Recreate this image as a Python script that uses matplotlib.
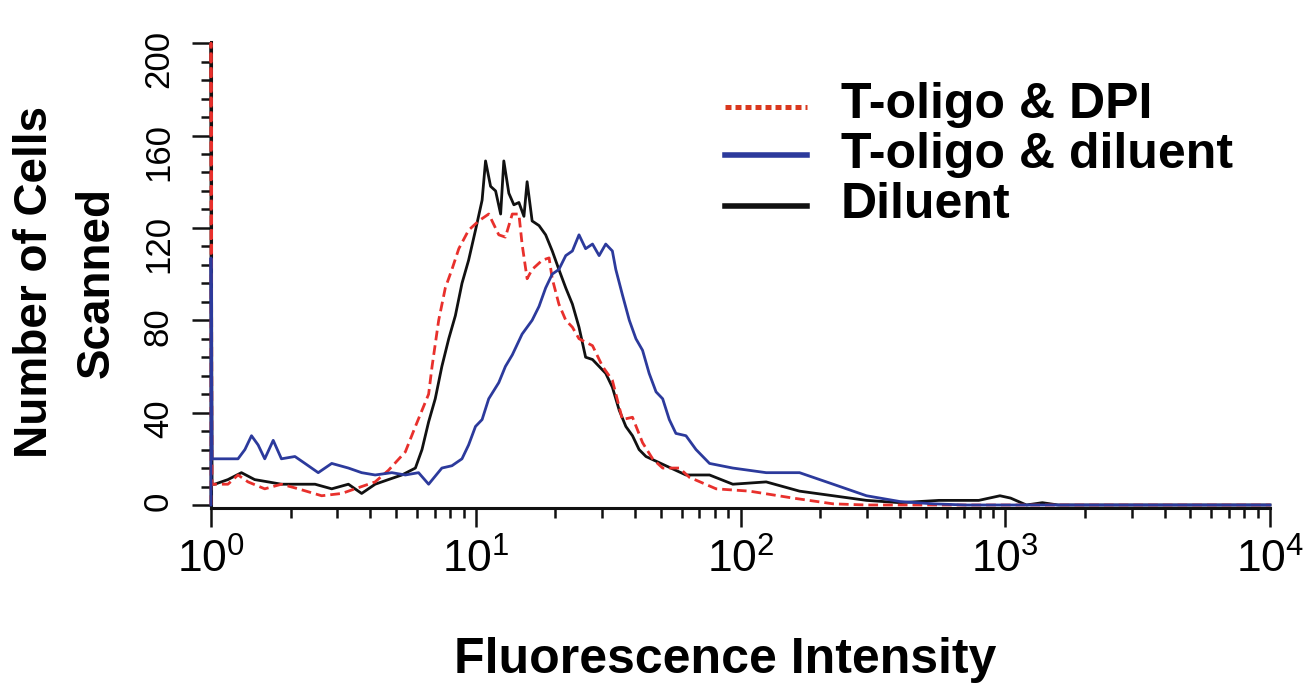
import numpy as np
import matplotlib
matplotlib.use("Agg")
import matplotlib.pyplot as plt
from matplotlib.lines import Line2D
from matplotlib.ticker import MultipleLocator, LogLocator, FuncFormatter, NullFormatter

plt.rcParams['font.family'] = ['Liberation Sans', 'DejaVu Sans']
plt.rcParams['mathtext.fontset'] = 'custom'
plt.rcParams['mathtext.rm'] = 'Liberation Sans'

# log10(fluorescence intensity) positions and cell counts
dil_log = [0.0, 0.0, 0.004, 0.014, 0.064, 0.115, 0.165, 0.216, 0.266, 0.330, 0.393, 0.456,
           0.519, 0.569, 0.620, 0.670, 0.721, 0.772, 0.797, 0.822, 0.847, 0.872, 0.898,
           0.923, 0.948, 0.973, 0.999, 1.024, 1.037, 1.056, 1.075, 1.094, 1.106, 1.125,
           1.144, 1.163, 1.182, 1.194, 1.213, 1.239, 1.264, 1.289, 1.314, 1.340, 1.365,
           1.390, 1.415, 1.441, 1.466, 1.491, 1.516, 1.542, 1.567, 1.592, 1.617, 1.643,
           1.718, 1.794, 1.883, 1.971, 2.097, 2.223, 2.350, 2.476, 2.602, 2.75, 2.90,
           2.98, 3.02, 3.08, 3.14, 3.2, 4.0]
dil_cells = [0, 200, 9, 9, 11, 14, 11, 10, 9, 9, 9, 7, 9, 5, 9, 11, 13, 16, 24, 36, 46, 60,
             72, 82, 96, 106, 119, 132, 149, 138, 136, 126, 149, 135, 130, 131, 125, 140,
             123, 121, 117, 110, 102, 94, 87, 77, 64, 63, 60, 57, 51, 41, 34, 30, 24, 21,
             17, 13, 13, 9, 10, 6, 4, 2, 1, 2, 2, 4, 3, 0, 1, 0, 0]

dpi_log = [0.0, 0.0, 0.004, 0.014, 0.064, 0.102, 0.140, 0.203, 0.266, 0.330, 0.418, 0.494,
           0.544, 0.620, 0.670, 0.734, 0.772, 0.797, 0.822, 0.835, 0.860, 0.885, 0.910,
           0.936, 0.973, 1.011, 1.049, 1.087, 1.112, 1.138, 1.163, 1.175, 1.194, 1.213,
           1.251, 1.277, 1.289, 1.314, 1.340, 1.365, 1.390, 1.441, 1.479, 1.516, 1.554,
           1.592, 1.630, 1.668, 1.706, 1.769, 1.807, 1.908, 2.034, 2.198, 2.350, 2.476, 4.0]
dpi_cells = [0, 200, 9, 9, 9, 13, 10, 7, 9, 7, 4, 5, 7, 10, 15, 23, 34, 41, 48, 60, 80, 94,
             102, 111, 119, 123, 126, 117, 116, 126, 126, 113, 98, 102, 106, 107, 98, 87,
             80, 77, 72, 69, 60, 54, 37, 38, 27, 20, 16, 16, 12, 7, 6, 3, 0.5, 0, 0]

dilu_log = [0.0, 0.0, 0.004, 0.014, 0.102, 0.128, 0.153, 0.178, 0.203, 0.235, 0.266, 0.317,
            0.355, 0.405, 0.456, 0.519, 0.569, 0.620, 0.683, 0.734, 0.784, 0.822, 0.872,
            0.910, 0.948, 0.973, 0.999, 1.024, 1.049, 1.087, 1.112, 1.138, 1.175, 1.213,
            1.239, 1.264, 1.289, 1.314, 1.340, 1.365, 1.390, 1.415, 1.441, 1.466, 1.491,
            1.516, 1.529, 1.554, 1.580, 1.605, 1.630, 1.655, 1.681, 1.706, 1.731, 1.756,
            1.794, 1.832, 1.883, 1.971, 2.097, 2.223, 2.350, 2.476, 2.602, 2.728, 2.85, 4.0]
dilu_cells = [0, 107, 20, 20, 20, 24, 30, 26, 20, 28, 20, 21, 18, 14, 18, 16, 14, 13, 14, 13,
              14, 9, 16, 17, 20, 26, 34, 37, 46, 53, 60, 65, 74, 80, 86, 94, 100, 102, 108,
              110, 117, 111, 113, 108, 113, 110, 102, 91, 80, 72, 67, 57, 49, 46, 37, 31,
              30, 24, 18, 16, 14, 14, 9, 4, 1.5, 0.5, 0, 0]

labels = ['T-oligo & DPI', 'T-oligo & diluent', 'Diluent']
c_red, c_blue, c_black = '#e8302c', '#2c3a9c', '#111111'

W, H = 1315, 683
fig = plt.figure(figsize=(W / 100, H / 100), dpi=100)
ax = fig.add_axes([211 / W, 1 - 508 / H, (1270 - 211) / W, (508 - 42) / H])

ax.plot(10 ** np.array(dil_log), dil_cells, color=c_black, lw=2.0, zorder=3, clip_on=False)
ax.plot(10 ** np.array(dpi_log), dpi_cells, color=c_red, lw=2.0, zorder=4, clip_on=False,
        dashes=(3.5, 1.8))
ax.plot(10 ** np.array(dilu_log), dilu_cells, color=c_blue, lw=2.0, zorder=5, clip_on=False)

ax.set_xscale('log')
ax.set_xlim(1, 1e4)
ax.set_ylim(-1.3, 200.5)

ax.xaxis.set_major_locator(LogLocator(base=10))
ax.xaxis.set_minor_locator(LogLocator(base=10, subs=np.arange(2, 10)))
ax.xaxis.set_minor_formatter(NullFormatter())
ax.xaxis.set_major_formatter(FuncFormatter(lambda v, p: r'$\mathregular{10^{%d}}$' % round(np.log10(v))))
ax.yaxis.set_major_locator(MultipleLocator(40))
ax.yaxis.set_minor_locator(MultipleLocator(8))

for s in ['top', 'right']:
    ax.spines[s].set_visible(False)
for s in ['left', 'bottom']:
    ax.spines[s].set_linewidth(2.2)
    ax.spines[s].set_color('#111111')
    ax.spines[s].set_zorder(2)

ax.tick_params(axis='both', which='major', direction='out', length=14, width=1.8, color='#111111')
ax.tick_params(axis='both', which='minor', direction='out', length=7, width=1.8, color='#111111')
ax.tick_params(axis='x', which='major', labelsize=32, pad=8)
ax.tick_params(axis='y', which='major', labelsize=25, labelrotation=90, pad=12)

fig.text(66 / W, 1 - 282 / H, 'Number of Cells\nScanned', rotation=90, ha='center',
         va='center', fontsize=33, fontweight='bold', linespacing=1.5, multialignment='center')
fig.text(725 / W, 1 - 673 / H, 'Fluorescence Intensity', ha='center', va='baseline',
         fontsize=36, fontweight='bold')

# legend drawn by hand to match the tight row spacing
legend_rows = [(107, 118, dict(color='#d9381e', lw=3.6, dashes=(1.2, 0.8), dash_capstyle='butt')),
               (155, 168, dict(color=c_blue, lw=4)),
               (206, 218, dict(color=c_black, lw=4))]
for (ly, ty, style), lab in zip(legend_rows, labels):
    fig.add_artist(Line2D([725 / W, 807 / W], [1 - ly / H, 1 - ly / H],
                          transform=fig.transFigure, **style))
    fig.text(841 / W, 1 - ty / H, lab, ha='left', va='baseline', fontsize=36,
             fontweight='bold')

fig.savefig('out.png', dpi=100)
